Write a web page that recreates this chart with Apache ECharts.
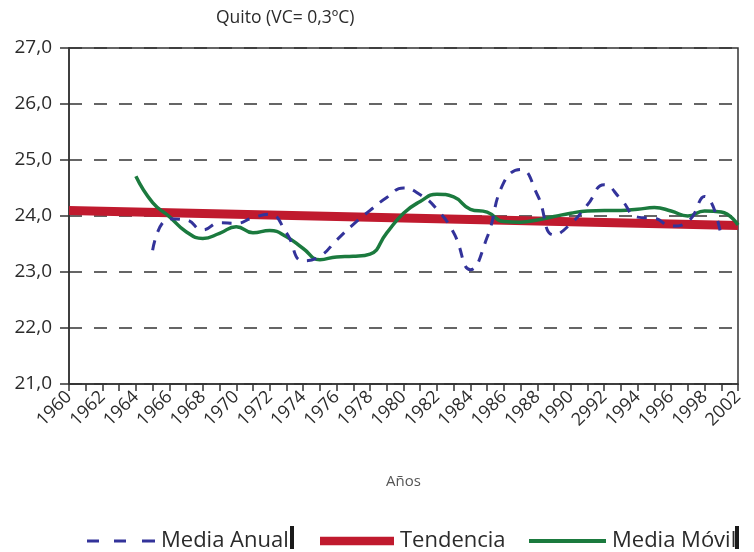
<!DOCTYPE html>
<html>
<head>
<meta charset="utf-8">
<script src="https://cdn.jsdelivr.net/npm/echarts@6/dist/echarts.min.js"></script>
<style>
  html, body { margin: 0; padding: 0; background: #fff; }
  #chart { width: 754px; height: 552px; }
</style>
</head>
<body>
<div id="chart"></div>
<script>
// ---- data ----
const titleText = 'Quito (VC= 0,3ºC)';
const xAxisName = 'Años';
// 41 axis positions (one tick each); labels every second tick, as printed
const xCategories = [];
for (let y = 1960; y <= 2000; y++) xCategories.push(String(y));
const xTickLabels = ['1960','1962','1964','1966','1968','1970','1972','1974','1976','1978',
  '1980','1982','1984','1986','1988','1990','2992','1994','1996','1998','2002'];
const yTickLabels = ['21,0','22,0','23,0','24,0','25,0','26,0','27,0'];

const seriesNames = ['Media Anual', 'Tendencia', 'Media Móvil'];

// Media Anual: starts at axis position 5
const mediaAnualStart = 5;
const mediaAnual = [23.39, 23.95, 23.93, 23.75, 23.88, 23.87, 23.97, 24.03, 23.7, 23.2,
  23.28, 23.57, 23.85, 24.1, 24.33, 24.5, 24.38, 24.12, 23.7, 23.04,
  23.62, 24.6, 24.83, 24.38, 23.66, 23.86, 24.2, 24.56, 24.3, 23.98,
  23.96, 23.82, 23.9, 24.35, 23.63];

// Tendencia: straight trend from first to last position
const tendenciaPos = [0, 40];
const tendencia = [24.1, 23.83];

// Media Móvil: starts at axis position 4
const mediaMovilStart = 4;
const mediaMovil = [24.71, 24.24, 23.99, 23.72, 23.6, 23.69, 23.81, 23.70, 23.74, 23.63,
  23.42, 23.22, 23.27, 23.28, 23.32, 23.7, 24.05, 24.26, 24.39, 24.34,
  24.12, 24.07, 23.9, 23.89, 23.93, 23.99, 24.05, 24.09, 24.1, 24.1,
  24.12, 24.15, 24.09, 24.0, 24.09, 24.07, 23.84];

// ---- build ----
const FONT = "'Open Sans', 'Noto Sans', sans-serif";
const txt = '#2b2b2b';
const pairs = (start, arr) => arr.map((v, i) => [start + i, v]);
const legendText = { fontFamily: FONT, fontSize: 22, color: txt, padding: [0, 0, 0, 1] };

const chart = echarts.init(document.getElementById('chart'), null, { renderer: 'canvas' });
chart.setOption({
  backgroundColor: '#ffffff',
  animation: false,
  title: {
    text: titleText,
    left: 211,
    top: 4,
    textStyle: { fontFamily: FONT, fontSize: 17.5, fontWeight: 'normal', color: txt }
  },
  grid: {
    left: 69, right: 16, top: 48, bottom: 168,
    show: true, borderColor: '#333', borderWidth: 1.5, backgroundColor: 'transparent'
  },
  legend: [
    {
      left: 82, top: 525, itemWidth: 68, itemHeight: 10,
      textStyle: legendText, itemStyle: { borderWidth: 0 },
      data: [{ name: seriesNames[0], icon: 'path://M0,0M68,10M0,3.6h12v2.8h-12zM27,3.6h12v2.8h-12zM55,3.6h13v2.8h-13z' }]
    },
    {
      left: 315, top: 525, itemWidth: 74, itemHeight: 10,
      textStyle: legendText, itemStyle: { borderWidth: 0 },
      data: [{ name: seriesNames[1], icon: 'path://M0,0M74,10M0,0.7h74v8.6h-74z' }]
    },
    {
      left: 524, top: 525, itemWidth: 77, itemHeight: 10,
      textStyle: legendText, itemStyle: { borderWidth: 0 },
      data: [{ name: seriesNames[2], icon: 'path://M0,0M77,10M0,3h77v4h-77z' }]
    }
  ],
  graphic: [
    { type: 'rect', left: 290, top: 526, shape: { width: 4, height: 23 }, style: { fill: '#1a1a1a' } },
    { type: 'rect', left: 735, top: 526, shape: { width: 4, height: 23 }, style: { fill: '#1a1a1a' } }
  ],
  xAxis: {
    type: 'category',
    data: xCategories,
    boundaryGap: false,
    name: xAxisName,
    nameLocation: 'middle',
    nameGap: 90,
    nameTextStyle: { fontFamily: FONT, fontSize: 15, color: '#555' },
    axisLine: { lineStyle: { color: '#333', width: 1.5 } },
    axisTick: { show: true, interval: 0, length: 7, lineStyle: { color: '#333', width: 1.5 } },
    axisLabel: {
      interval: 1,
      rotate: 45,
      margin: 10,
      fontFamily: FONT,
      fontSize: 18,
      color: txt,
      formatter: (v, i) => xTickLabels[Math.round(i / 2)]
    },
    splitLine: { show: false }
  },
  yAxis: {
    type: 'value',
    min: 21, max: 27, interval: 1,
    axisLine: { show: true, lineStyle: { color: '#333', width: 1.5 } },
    axisTick: { show: true, length: 9, lineStyle: { color: '#333', width: 1.5 } },
    axisLabel: {
      margin: 17,
      fontFamily: FONT,
      fontSize: 19,
      color: txt,
      formatter: (v) => yTickLabels[Math.round(v - 21)]
    },
    splitLine: { show: true, lineStyle: { color: '#333', width: 1.5, type: [13, 12] } }
  },
  series: [
    {
      name: seriesNames[0], type: 'line', smooth: 0.5, symbol: 'none', z: 4,
      itemStyle: { color: '#33339a' },
      lineStyle: { color: '#33339a', width: 3, type: [10, 9] },
      data: pairs(mediaAnualStart, mediaAnual)
    },
    {
      name: seriesNames[1], type: 'line', symbol: 'none', z: 2,
      itemStyle: { color: '#c01a2e' },
      lineStyle: { color: '#c01a2e', width: 9 },
      data: tendenciaPos.map((p, i) => [p, tendencia[i]])
    },
    {
      name: seriesNames[2], type: 'line', smooth: 0.5, symbol: 'none', z: 3,
      itemStyle: { color: '#1b7a3e' },
      lineStyle: { color: '#1b7a3e', width: 3.5 },
      data: pairs(mediaMovilStart, mediaMovil)
    }
  ]
});
</script>
</body>
</html>
